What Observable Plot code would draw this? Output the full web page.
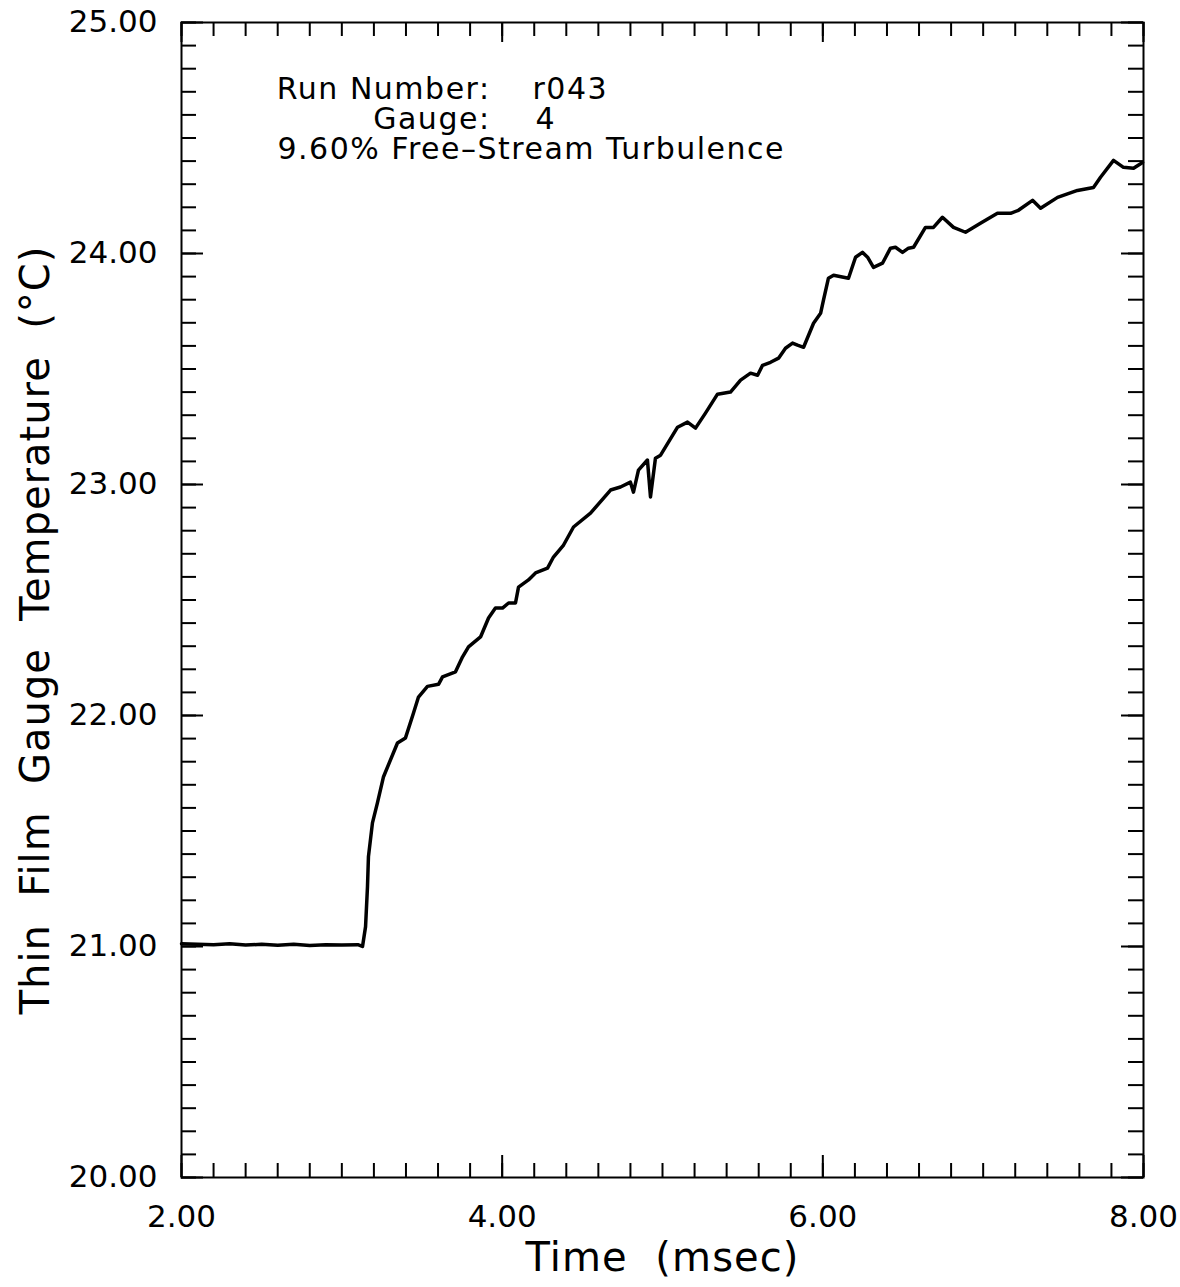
<!DOCTYPE html>
<html>
<head>
<meta charset="utf-8">
<script src="https://cdn.jsdelivr.net/npm/d3@7"></script>
<script src="https://cdn.jsdelivr.net/npm/@observablehq/plot@0.6"></script>
<style>
  html, body { margin: 0; padding: 0; background: #fff; }
  #chart { width: 1180px; height: 1287px; }
  .info text { letter-spacing: 1.5px; }
  .xtitle text { letter-spacing: 1.1px; }
  .ytitle text { letter-spacing: 1px; }
</style>
</head>
<body>
<div id="chart"></div>
<script>
// ---- data ----
const timeMs = [
  2.00, 2.10, 2.20, 2.30, 2.40, 2.50, 2.60, 2.70, 2.80, 2.90, 3.00, 3.10, 3.116,
  3.129, 3.148, 3.160, 3.166, 3.191, 3.222, 3.260, 3.347, 3.397, 3.447, 3.478,
  3.534, 3.603, 3.628, 3.709, 3.753, 3.790, 3.865, 3.915, 3.958, 4.002, 4.040,
  4.083, 4.102, 4.164, 4.208, 4.283, 4.320, 4.383, 4.445, 4.551, 4.676, 4.738,
  4.800, 4.819, 4.850, 4.906, 4.925, 4.956, 4.988, 5.094, 5.156, 5.206, 5.268,
  5.343, 5.424, 5.487, 5.549, 5.593, 5.624, 5.674, 5.724, 5.767, 5.811, 5.842,
  5.880, 5.942, 5.986, 6.004, 6.035, 6.067, 6.160, 6.204, 6.247, 6.279, 6.316,
  6.372, 6.422, 6.453, 6.497, 6.534, 6.566, 6.640, 6.690, 6.746, 6.815, 6.890,
  6.983, 7.089, 7.171, 7.220, 7.308, 7.358, 7.464, 7.588, 7.688, 7.732, 7.813,
  7.875, 7.938, 7.994
];
const temperatureC = [
  21.012, 21.010, 21.008, 21.012, 21.006, 21.010, 21.005, 21.010, 21.004, 21.008, 21.006, 21.008, 21.004,
  21.000, 21.086, 21.259, 21.389, 21.535, 21.622, 21.735, 21.881, 21.903, 22.011, 22.080,
  22.126, 22.135, 22.167, 22.189, 22.254, 22.297, 22.340, 22.422, 22.465, 22.465, 22.487,
  22.487, 22.556, 22.587, 22.617, 22.638, 22.686, 22.738, 22.816, 22.876, 22.976, 22.989,
  23.010, 22.967, 23.062, 23.106, 22.946, 23.114, 23.127, 23.248, 23.270, 23.244, 23.309,
  23.391, 23.400, 23.452, 23.482, 23.473, 23.516, 23.529, 23.547, 23.590, 23.612, 23.603,
  23.594, 23.698, 23.741, 23.798, 23.893, 23.906, 23.893, 23.984, 24.005, 23.984, 23.940,
  23.958, 24.023, 24.027, 24.005, 24.023, 24.027, 24.113, 24.113, 24.157, 24.113, 24.092,
  24.131, 24.174, 24.174, 24.187, 24.230, 24.196, 24.243, 24.273, 24.286, 24.330, 24.403,
  24.373, 24.369, 24.394
];

const xMajorTicks = [2, 4, 6, 8];
const yMajorTicks = [20, 21, 22, 23, 24, 25];
const xMinorTicks = d3.range(0, 31).map(i => 2 + i * 0.2);
const yMinorTicks = d3.range(0, 51).map(i => 20 + i * 0.1);

const xAxisLabel = "Time\u00a0 (msec)";
const yAxisLabel = "Thin\u00a0 Film\u00a0 Gauge\u00a0 Temperature\u00a0 (°C)";
const infoLabels = ["Run Number:", "Gauge:"];
const infoValues = ["r043", "4"];
const infoLine = ["9.60% Free–Stream Turbulence"];

const data = timeMs.map((t, i) => ({t, temp: temperatureC[i]}));

const font = "DejaVu Sans, sans-serif";
const tickFmt = d3.format(".2f");

// frame size in pixels
const W = 1180, H = 1287, ML = 181, MR = 37, MT = 22, MB = 110;
const FW = W - ML - MR, FH = H - MT - MB;

const tickStyle = {stroke: "#000", strokeWidth: 2};
const bottomTicks = (ticks, len) => Plot.tickX(ticks, {x: d => d, insetTop: FH - len, ...tickStyle});
const topTicks = (ticks, len) => Plot.tickX(ticks, {x: d => d, insetBottom: FH - len, ...tickStyle});
const leftTicks = (ticks, len) => Plot.tickY(ticks, {y: d => d, insetRight: FW - len, ...tickStyle});
const rightTicks = (ticks, len) => Plot.tickY(ticks, {y: d => d, insetLeft: FW - len, ...tickStyle});

const lineGap = 30;
const infoText = (arr, idx, anchor, dx, dy) =>
  Plot.text(arr, {frameAnchor: "top-left", textAnchor: anchor, lineAnchor: "middle", dx, dy, fontSize: 30,
                  className: "info", text: d => d, filter: (d, i) => i === idx});

const chart = Plot.plot({
  width: W,
  height: H,
  marginLeft: ML,
  marginRight: MR,
  marginTop: MT,
  marginBottom: MB,
  style: {background: "#fff", color: "#000", fontFamily: font},
  x: {domain: [2, 8], axis: null},
  y: {domain: [20, 25], axis: null},
  marks: [
    Plot.frame({stroke: "#000", strokeWidth: 2}),
    // inward tick marks on all four sides
    bottomTicks(xMinorTicks, 14), bottomTicks(xMajorTicks, 22),
    topTicks(xMinorTicks, 14), topTicks(xMajorTicks, 20),
    leftTicks(yMinorTicks, 15), leftTicks(yMajorTicks, 22),
    rightTicks(yMinorTicks, 15), rightTicks(yMajorTicks, 22),
    // tick labels
    Plot.axisX(xMajorTicks, {anchor: "bottom", tickSize: 0, tickPadding: 27, tickFormat: tickFmt, fontSize: 31, label: null}),
    Plot.axisY(yMajorTicks, {anchor: "left", tickSize: 0, tickPadding: 24, tickFormat: tickFmt, fontSize: 31, label: null}),
    // axis titles
    Plot.text([xAxisLabel], {frameAnchor: "bottom", lineAnchor: "middle", dy: 81, fontSize: 40, text: d => d, className: "xtitle"}),
    Plot.text([yAxisLabel], {frameAnchor: "left", textAnchor: "middle", lineAnchor: "middle", dx: -145, dy: 30, rotate: -90, fontSize: 40, text: d => d, className: "ytitle"}),
    // annotations
    infoText(infoLabels, 0, "end", 309, 67),
    infoText(infoLabels, 1, "end", 309, 67 + lineGap),
    infoText(infoValues, 0, "start", 351, 67),
    infoText(infoValues, 1, "start", 354, 67 + lineGap),
    infoText(infoLine, 0, "start", 96, 67 + 2 * lineGap),
    Plot.line(data, {x: "t", y: "temp", stroke: "#000", strokeWidth: 3.5, strokeLinejoin: "round"})
  ]
});
document.getElementById("chart").appendChild(chart);
</script>
</body>
</html>
